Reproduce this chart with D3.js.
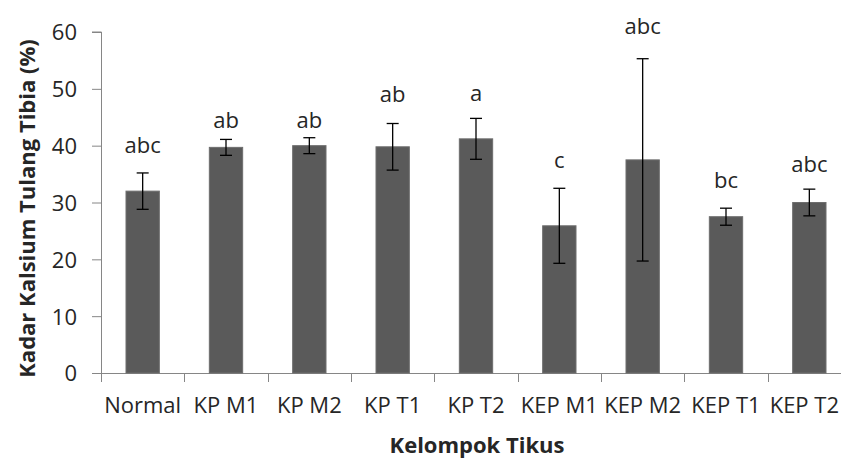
<!DOCTYPE html>
<html>
<head>
<meta charset="utf-8">
<script src="https://cdn.jsdelivr.net/npm/d3@7"></script>
<style>
  body { margin: 0; background: #fff; }
  text { font-family: "Open Sans", "Liberation Sans", sans-serif; fill: #262626; }
</style>
</head>
<body>
<div id="chart"></div>
<script>
// Chart data
var groups = ["Normal", "KP M1", "KP M2", "KP T1", "KP T2", "KEP M1", "KEP M2", "KEP T1", "KEP T2"];
var means = [32.0, 39.7, 40.0, 39.8, 41.2, 25.9, 37.5, 27.5, 30.0];
var errors = [3.2, 1.4, 1.4, 4.1, 3.6, 6.6, 17.8, 1.5, 2.35];
var letters = ["abc", "ab", "ab", "ab", "a", "c", "abc", "bc", "abc"];
// value height (y units) of each letter's baseline
var letterY = [38.7, 43.1, 43.1, 47.7, 47.9, 36.1, 59.7, 32.5, 35.4];
var yTicks = [0, 10, 20, 30, 40, 50, 60];

var width = 841,
    height = 459;

var margin = { top: 32, left: 101, bottom: 86 };

var svg = d3.select("#chart").append("svg")
    .attr("width", width)
    .attr("height", height);

// Scales
var xScale = d3.scaleBand()
    .domain(groups)
    .range([margin.left, 851])
    .padding(0);

var yScale = d3.scaleLinear()
    .domain([0, 60])
    .range([373, margin.top]);

// Axes
var yAxis = d3.axisLeft(yScale)
    .tickValues(yTicks)
    .tickSize(9)
    .tickPadding(15);

var gy = svg.append("g")
    .attr("transform", "translate(" + margin.left + ",0)")
    .call(yAxis);
gy.select(".domain").attr("stroke", "#868686").attr("d", "M-9," + yScale(60) + "H0.5V" + (yScale(0) + 8));
gy.selectAll(".tick line").attr("stroke", "#868686");
gy.selectAll(".tick text")
    .style("font-size", "22px")
    .attr("fill", "#262626")
    .attr("dy", "0.36em");

// x axis line and ticks between groups
svg.append("line")
    .attr("x1", margin.left)
    .attr("x2", 851)
    .attr("y1", yScale(0) + 0.5)
    .attr("y2", yScale(0) + 0.5)
    .attr("stroke", "#868686");

svg.selectAll(".xtick")
    .data(groups)
    .enter()
    .append("line")
    .attr("class", "xtick")
    .attr("x1", function(d) { return Math.round(xScale(d)) + 0.5; })
    .attr("x2", function(d) { return Math.round(xScale(d)) + 0.5; })
    .attr("y1", yScale(0))
    .attr("y2", yScale(0) + 9)
    .attr("stroke", "#868686");

// last label is kept inside the page edge
svg.selectAll(".xlabel")
    .data(groups)
    .enter()
    .append("text")
    .attr("class", "xlabel")
    .attr("x", function(d, i) {
        return i == groups.length - 1 ? width - 2 : xScale(d) + xScale.bandwidth() / 2;
    })
    .attr("y", 413)
    .attr("text-anchor", function(d, i) { return i == groups.length - 1 ? "end" : "middle"; })
    .style("font-size", "22px")
    .text(function(d) { return d; });

// Bars
var barW = xScale.bandwidth() * 0.4;

svg.selectAll(".bar")
    .data(groups)
    .enter()
    .append("rect")
    .attr("class", "bar")
    .attr("x", function(d) { return xScale(d) + (xScale.bandwidth() - barW) / 2; })
    .attr("y", function(d, i) { return yScale(means[i]); })
    .attr("width", barW)
    .attr("height", function(d, i) { return yScale(0) - yScale(means[i]); })
    .attr("fill", "#5a5a5a")
    .attr("stroke", "#6e6e6e")
    .attr("stroke-width", 1);

// Error bars
var cap = 6;
var err = svg.selectAll(".err")
    .data(groups)
    .enter()
    .append("g")
    .attr("class", "err")
    .attr("stroke", "#000")
    .attr("stroke-width", 1.3);

err.append("line")
    .attr("x1", function(d) { return xScale(d) + xScale.bandwidth() / 2; })
    .attr("x2", function(d) { return xScale(d) + xScale.bandwidth() / 2; })
    .attr("y1", function(d, i) { return yScale(means[i] + errors[i]); })
    .attr("y2", function(d, i) { return yScale(means[i] - errors[i]); });

err.append("line")
    .attr("x1", function(d) { return xScale(d) + xScale.bandwidth() / 2 - cap; })
    .attr("x2", function(d) { return xScale(d) + xScale.bandwidth() / 2 + cap; })
    .attr("y1", function(d, i) { return yScale(means[i] + errors[i]); })
    .attr("y2", function(d, i) { return yScale(means[i] + errors[i]); });

err.append("line")
    .attr("x1", function(d) { return xScale(d) + xScale.bandwidth() / 2 - cap; })
    .attr("x2", function(d) { return xScale(d) + xScale.bandwidth() / 2 + cap; })
    .attr("y1", function(d, i) { return yScale(means[i] - errors[i]); })
    .attr("y2", function(d, i) { return yScale(means[i] - errors[i]); });

// Significance letters
svg.selectAll(".letter")
    .data(groups)
    .enter()
    .append("text")
    .attr("class", "letter")
    .attr("x", function(d) { return xScale(d) + xScale.bandwidth() / 2; })
    .attr("y", function(d, i) { return yScale(letterY[i]); })
    .attr("text-anchor", "middle")
    .style("font-size", "22px")
    .text(function(d, i) { return letters[i]; });

// Axis titles
svg.append("text")
    .attr("transform", "translate(35," + ((35 + 382) / 2) + ") rotate(-90)")
    .attr("text-anchor", "middle")
    .style("font-size", "22px")
    .style("font-weight", "bold")
    .text("Kadar Kalsium Tulang Tibia (%)");

svg.append("text")
    .attr("x", 477)
    .attr("y", 453)
    .attr("text-anchor", "middle")
    .style("font-size", "22px")
    .style("font-weight", "bold")
    .text("Kelompok Tikus");
</script>
</body>
</html>
